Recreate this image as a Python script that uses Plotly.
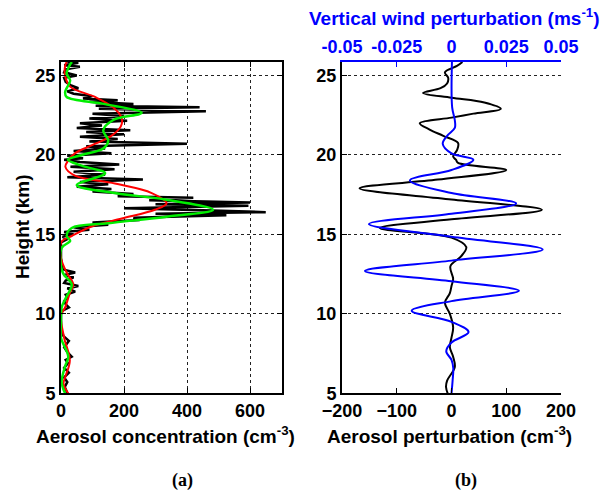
import plotly.graph_objects as go

# ---------------- Panel (a): aerosol concentration profiles ----------------
raw_height = [25.85, 25.8, 25.65, 25.55, 25.4, 25.2, 25.0, 24.85, 24.6, 24.4, 24.2, 24.0, 23.85, 23.7,
              23.55, 23.45, 23.35, 23.2, 23.1, 23.0, 22.9, 22.75, 22.6, 22.45, 22.3, 22.15, 22.0,
              21.85, 21.7, 21.55, 21.45, 21.3, 21.15, 21.0, 20.85, 20.7, 20.55, 20.4, 20.25, 20.1,
              19.95, 19.8, 19.7, 19.55, 19.4, 19.25, 19.1, 18.95, 18.75, 18.6, 18.45, 18.3, 18.15,
              18.0, 17.85, 17.7, 17.55, 17.4, 17.3, 17.15, 17.0, 16.9, 16.8, 16.65, 16.5, 16.4,
              16.3, 16.2, 16.05, 15.9, 15.75, 15.6, 15.45, 15.3, 15.15, 15.0, 14.85, 14.7, 14.5,
              13.5, 12.8, 12.6, 12.45, 12.3, 12.1, 11.95, 11.75, 11.6, 11.4, 11.2, 11.0, 10.8,
              10.6, 10.4, 10.2, 10.0, 9.0, 8.6, 8.3, 7.9, 7.6, 7.3, 7.1, 6.9, 6.6, 6.3, 6.0, 5.7,
              5.4, 5.0]
raw_conc = [20, 55, 10, 60, 15, 10, 50, 10, 15, 30, 55, 20, 40, 100,
            70, 180, 90, 230, 110, 440, 120, 460, 100, 200, 90, 210, 60,
            130, 50, 220, 80, 200, 60, 180, 90, 400, 80, 140, 40, 160,
            20, 70, 10, 60, 185, 30, 170, 40, 140, 20, 260, 60, 150,
            50, 160, 100, 230, 180, 420, 280, 600, 300, 595, 200, 480, 650,
            300, 525, 230, 250, 100, 150, 40, 90, 10, 40, 5, 20, 0,
            0, 5, 45, 10, 40, 15, 10, 55, 20, 45, 15, 20, 10,
            15, 25, 5, 0, 0, 8, 25, 10, 20, 34, 15, 22, 10, 25, 10, 20,
            12, 20]

red_height = [25.85, 25.6, 25.0, 24.3, 23.65, 23.0, 22.3, 21.8, 21.15, 20.6, 20.1, 19.65, 19.25,
              18.7, 18.2, 17.6, 16.95, 16.55, 16.0, 15.5, 14.9, 14.55, 13.5, 12.6, 11.85, 11.3,
              10.4, 9.9, 8.5, 7.05, 6.0, 5.6, 5.0]
red_conc = [18, 13, 13, 29, 108, 165, 193, 190, 156, 97, 44, 23, 14,
            44, 171, 288, 335, 298, 193, 97, 34, 2, 0, 18, 39, 28,
            13, 0, 10, 28, 13, 8, 23]

green_height = [25.85, 25.7, 25.1, 24.7, 23.95, 23.65, 23.2, 22.65, 22.2, 21.55, 20.9, 20.4, 20.0,
                19.7, 19.3, 18.85, 18.1, 17.6, 17.2, 16.55, 16.1, 15.7, 15.4, 14.9, 14.6, 14.15,
                13.0, 12.5, 11.85, 11.1, 10.4, 9.4, 8.5, 7.3, 6.7, 5.7, 5.0]
green_conc = [35, 29, 18, 29, 13, 18, 140, 256, 166, 134, 150, 134, 66,
              22, 70, 140, 50, 171, 330, 483, 330, 150, 34, 18, 29, 2,
              0, 8, 34, 18, 2, 0, 0, 23, 13, 2, 13]

# ---------------- Panel (b): perturbations ----------------
pert_height = [25.85, 25.6, 25.2, 24.85, 24.5, 24.2, 23.9, 23.6, 23.3, 22.9, 22.6, 22.35, 22.0,
               21.6, 21.2, 20.75, 20.3, 19.9, 19.7, 19.5, 19.05, 18.45, 17.9, 17.2, 16.55,
               15.95, 15.4, 14.8, 14.2, 13.6, 13.0, 12.2, 11.75, 11.3, 10.7, 10.0, 9.15, 8.5,
               7.9, 7.3, 6.65, 5.8, 5.4, 5.0]
aerosol_pert = [20, 10, -12, -6, -8, -20, -52, 0, 60, 90, 40, 0, -58,
                -40, -15, 12, 10, 3, 8, 12, 100, -25, -168, 0, 165,
                0, -131, 0, 27, 17, -2, 3, 0, -3, -12, -3, 3, 0,
                -3, 3, 6, -8, -10, -7]

wind_height = [25.85, 23.0, 22.2, 21.7, 21.2, 20.7, 20.1, 19.7, 19.05, 18.4, 17.6, 16.95, 16.3,
               15.65, 14.85, 14.05, 13.35, 12.7, 12.05, 11.45, 10.8, 10.2, 9.5, 8.85, 8.2,
               7.65, 7.1, 6.6, 5.8, 5.0]
wind_pert = [0.0002, 0.0003, 0.0015, 0.0015, -0.002, -0.004, 0.0, 0.010, 0.0, -0.019, 0.0, 0.0295, 0.0,
             -0.0377, 0.0, 0.0416, 0.0, -0.0395, 0.0, 0.0308, 0.0, -0.0182, 0.0, 0.0078, 0.0,
             -0.0024, 0.0, 0.0008, 0.0005, 0.0]

height_ticks = [5, 10, 15, 20, 25]
conc_ticks = [0, 200, 400, 600]
pert_ticks = [-200, -100, 0, 100, 200]
wind_ticks = [-0.05, -0.025, 0, 0.025, 0.05]
wind_tick_text = ["-0.05", "-0.025", "0", "0.025", "0.05"]

FONT = "Liberation Sans"
TICKFONT = dict(family=FONT, size=18, color="black", weight="bold")

fig = go.Figure()

fig.add_trace(go.Scatter(x=raw_conc, y=raw_height, mode="lines",
                         line=dict(color="black", width=2.5), xaxis="x", yaxis="y"))
fig.add_trace(go.Scatter(x=red_conc, y=red_height, mode="lines",
                         line=dict(color="#ff0000", width=2, shape="spline"), xaxis="x", yaxis="y"))
fig.add_trace(go.Scatter(x=green_conc, y=green_height, mode="lines",
                         line=dict(color="#00ee00", width=2.5, shape="spline"), xaxis="x", yaxis="y"))

fig.add_trace(go.Scatter(x=aerosol_pert, y=pert_height, mode="lines",
                         line=dict(color="black", width=2, shape="spline"), xaxis="x2", yaxis="y2"))
fig.add_trace(go.Scatter(x=wind_pert, y=wind_height, mode="lines",
                         line=dict(color="#0000ff", width=2, shape="spline"), xaxis="x3", yaxis="y2"))

ydom = [1 - 393.3 / 491, 1 - 62 / 491]
yr = [5, 25.85]
common_axis = dict(showline=True, linecolor="black", linewidth=2, ticks="inside", ticklen=5,
                   tickwidth=1, tickcolor="black", tickfont=TICKFONT, zeroline=False,
                   automargin=False)
grid = dict(showgrid=True, gridcolor="#222", griddash="dot", gridwidth=1)

fig.update_layout(
    width=609, height=491,
    margin=dict(l=0, r=0, t=0, b=0, autoexpand=False),
    paper_bgcolor="white", plot_bgcolor="white",
    showlegend=False,
    xaxis=dict(domain=[61 / 609, 281.5 / 609], range=[0, 700], tickvals=conc_ticks,
               anchor="y", mirror="ticks", **grid, **common_axis),
    yaxis=dict(domain=ydom, range=yr, tickvals=height_ticks, anchor="x",
               mirror="ticks", **grid, **common_axis),
    xaxis2=dict(domain=[342 / 609, 561 / 609], range=[-200, 200], tickvals=pert_ticks,
                anchor="y2", showgrid=False, **common_axis),
    xaxis3=dict(range=[-0.05, 0.05], tickvals=wind_ticks, ticktext=wind_tick_text,
                overlaying="x2", side="top", anchor="y2", showgrid=False, zeroline=False,
                showline=True, linecolor="#0000ff", linewidth=2, ticks="inside", ticklen=5,
                tickcolor="#0000ff", automargin=False,
                tickfont=dict(family=FONT, size=18, color="#0000ff", weight="bold")),
    yaxis2=dict(domain=ydom, range=yr, tickvals=height_ticks, anchor="x2", side="left",
                **grid, **common_axis),
    yaxis3=dict(range=yr, tickvals=height_ticks, overlaying="y2", anchor="x2", side="right",
                showgrid=False, **common_axis),
)

ann_font = dict(family=FONT, size=19, color="black", weight="bold")
fig.add_annotation(text="Height (km)", x=22 / 609, y=1 - 227 / 491, xref="paper", yref="paper",
                   textangle=-90, showarrow=False, font=ann_font, xanchor="center", yanchor="middle")
fig.add_annotation(text="Aerosol concentration (cm<sup>-3</sup>)", x=165 / 609, y=1 - 435 / 491,
                   xref="paper", yref="paper", showarrow=False, font=ann_font,
                   xanchor="center", yanchor="middle")
fig.add_annotation(text="Aerosol perturbation (cm<sup>-3</sup>)", x=449 / 609, y=1 - 435 / 491,
                   xref="paper", yref="paper", showarrow=False, font=ann_font,
                   xanchor="center", yanchor="middle")
fig.add_annotation(text="Vertical wind perturbation (ms<sup>-1</sup>)", x=454 / 609, y=1 - 17 / 491,
                   xref="paper", yref="paper", showarrow=False,
                   font=dict(family=FONT, size=19, color="#0000ff", weight="bold"),
                   xanchor="center", yanchor="middle")
cap_font = dict(family="Liberation Serif", size=18, color="black", weight="bold")
fig.add_annotation(text="(a)", x=182 / 609, y=1 - 480 / 491, xref="paper", yref="paper",
                   showarrow=False, font=cap_font, xanchor="center", yanchor="middle")
fig.add_annotation(text="(b)", x=466 / 609, y=1 - 480 / 491, xref="paper", yref="paper",
                   showarrow=False, font=cap_font, xanchor="center", yanchor="middle")

fig.write_html("out.html", config={"displayModeBar": False},
               post_script="document.body.style.margin='0';document.body.style.overflow='hidden';")
